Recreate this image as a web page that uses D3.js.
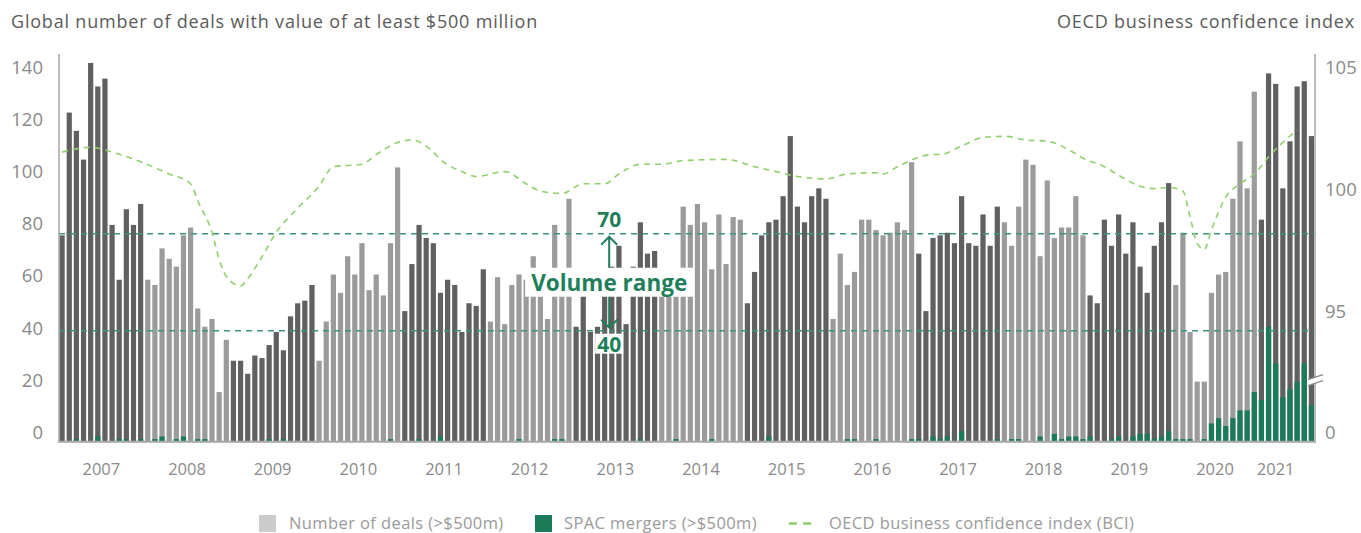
<html>
<head>
<script src="https://d3js.org/d3.v7.min.js"></script>
<style>
body{margin:0;background:#fff;}
text{font-family:"Open Sans",sans-serif;}
.tick{fill:#8a8a8a;font-size:18.5px;}
</style>
</head>
<body>
<div id="graph"></div>
<script>
// monthly number of deals (>$500m), Jan..Dec per year
var deals = {
  2007:[79,126,119,108,145,136,139,83,62,89,83,91],
  2008:[62,60,74,70,67,79,82,51,44,47,19,39],
  2009:[31,31,26,33,32,37,42,35,48,53,54,60],
  2010:[31,46,64,57,71,64,76,58,64,56,76,105],
  2011:[50,68,83,78,76,57,62,60,42,53,52,66],
  2012:[46,63,45,60,64,62,71,60,47,83,58,93],
  2013:[44,61,42,44,63,67,75,45,67,84,72,73],
  2014:[58,62,60,90,83,91,84,66,87,68,86,85],
  2015:[53,65,79,84,85,94,117,90,84,94,97,93],
  2016:[47,72,60,65,85,85,81,79,80,84,81,107],
  2017:[72,50,78,79,80,76,94,76,75,87,75,90],
  2018:[84,75,90,108,106,71,100,78,82,82,94,79],
  2019:[56,53,85,75,87,72,84,67,57,75,84,99],
  2020:[60,80,42,23,23,57,64,65,93,115,97,134],
  2021:[85,141,137,97,115,136,138,117]
};
// SPAC mergers (>$500m)
var spac = {
  2007:[0,0,1,0,0,2,0,0,1,1,0,1],
  2008:[0,1,2,0,1,2,0,1,1,0,0,0],
  2009:[0,0,0,0,0,1,0,1,0,0,0,0],
  2010:[0,0,0,0,0,0,0,0,0,0,1,0],
  2011:[0,0,1,0,0,2,0,0,0,0,0,0],
  2012:[0,0,0,0,1,0,0,0,0,1,1,0],
  2013:[0,0,0,0,0,0,0,0,0,1,0,0],
  2014:[0,0,1,0,0,0,0,1,0,0,0,0],
  2015:[0,0,0,2,0,0,0,0,0,0,0,0],
  2016:[0,0,1,1,0,0,1,0,0,0,0,1],
  2017:[1,0,2,1,2,0,4,0,0,0,0,1],
  2018:[0,1,1,0,0,2,0,3,1,2,2,1],
  2019:[2,0,0,1,2,0,2,3,3,1,2,4],
  2020:[1,1,1,0,1,7,9,6,9,12,12,19],
  2021:[16,44,30,17,20,23,30,14]
};
// OECD BCI
var bci = [
  ["2007-01",101.9],["2007-05",102.1],["2007-08",101.9],["2007-12",101.5],
  ["2008-04",101.0],["2008-07",100.6],["2008-08",99.9],["2008-10",98.6],
  ["2008-11",97.5],["2008-12",96.8],["2009-02",96.4],["2009-03",96.7],
  ["2009-05",97.6],["2009-07",98.6],["2009-10",99.6],["2010-01",100.5],
  ["2010-03",101.3],["2010-07",101.4],["2010-09",101.8],["2010-12",102.3],
  ["2011-02",102.4],["2011-05",101.9],["2011-06",101.6],["2011-09",101.1],
  ["2011-11",100.9],["2012-03",101.1],["2012-06",100.6],["2012-08",100.3],
  ["2012-11",100.2],["2013-02",100.6],["2013-05",100.6],["2013-07",101.0],
  ["2013-10",101.4],["2014-01",101.4],["2014-04",101.55],["2014-10",101.6],
  ["2015-02",101.3],["2015-05",101.1],["2015-08",100.9],["2015-12",100.8],
  ["2016-03",101.0],["2016-07",101.05],["2016-08",101.0],["2016-10",101.3],
  ["2017-03",101.8],["2017-04",101.8],["2017-07",102.15],["2017-10",102.5],
  ["2018-01",102.55],["2018-04",102.4],["2018-07",102.35],["2018-10",102.0],
  ["2018-12",101.65],["2019-03",101.3],["2019-05",100.95],["2019-08",100.5],
  ["2019-10",100.4],["2019-12",100.45],["2020-02",100.3],["2020-03",99.25],
  ["2020-04",98.15],["2020-05",97.9],["2020-06",98.7],["2020-08",100.05],
  ["2020-10",100.6],["2020-12",101.0],["2021-02",101.7],["2021-04",102.3],
  ["2021-06",102.8]
];
var rangeHi = 79.6, rangeLo = 42.5;

var width = 1361, height = 533;
var dark = "#606060", light = "#9b9b9b", green = "#1b7a57", axisCol = "#a6a6a6";

var rows = [];
Object.keys(deals).forEach(function(yr){
  deals[yr].forEach(function(v, m){
    rows.push({key: yr + "-" + (m < 9 ? "0" : "") + (m + 1), year: +yr, deals: v, spac: spac[yr][m]});
  });
});

var svg = d3.select("#graph").append("svg")
  .attr("width", width).attr("height", height);

var x = d3.scaleBand()
  .domain(rows.map(function(d){ return d.key; }))
  .range([59.5, 1314])
  .paddingInner(0.27)
  .paddingOuter(0);
var y = d3.scaleLinear().domain([0, 140]).range([441.7, 76]);
var yR = d3.scaleLinear().domain([95, 105]).range([320, 76.7]);

// deal bars
svg.append("g").selectAll("rect")
  .data(rows).enter().append("rect")
  .attr("x", function(d){ return x(d.key); })
  .attr("width", x.bandwidth())
  .attr("y", function(d){ return y(d.deals); })
  .attr("height", function(d){ return y(0) - y(d.deals); })
  .attr("fill", function(d){ return (d.year - 2007) % 2 === 0 ? dark : light; });

// SPAC bars
svg.append("g").selectAll("rect")
  .data(rows.filter(function(d){ return d.spac > 0; })).enter().append("rect")
  .attr("x", function(d){ return x(d.key); })
  .attr("width", x.bandwidth())
  .attr("y", function(d){ return y(d.spac); })
  .attr("height", function(d){ return y(0) - y(d.spac); })
  .attr("fill", green);

// volume range lines
svg.append("g").selectAll("line")
  .data([rangeHi, rangeLo]).enter().append("line")
  .attr("x1", 59).attr("x2", 1315)
  .attr("y1", function(d){ return y(d); }).attr("y2", function(d){ return y(d); })
  .attr("stroke", "#3e9478").attr("stroke-width", 1.6)
  .attr("stroke-dasharray", "6,5");

// BCI line
var line = d3.line()
  .x(function(d){ return x(d[0]) + x.bandwidth() / 2; })
  .y(function(d){ return yR(d[1]); })
  .curve(d3.curveMonotoneX);
svg.append("path")
  .datum(bci)
  .attr("d", line)
  .attr("fill", "none")
  .attr("stroke", "#8fd06b")
  .attr("stroke-width", 1.6)
  .attr("stroke-dasharray", "6,5");

// annotation
var ax = x("2013-06");
var yHi = y(rangeHi), yLo = y(rangeLo), yMid = (yHi + yLo) / 2;
var ann = svg.append("g").attr("fill", "#1e7f5a").style("font-weight", "bold");
var vt = ann.append("text").attr("x", ax).attr("y", yMid)
  .attr("text-anchor", "middle").attr("dominant-baseline", "central")
  .style("font-size", "22.5px").text("Volume range");
var bb = vt.node().getBBox();
ann.insert("rect", "text")
  .attr("x", bb.x - 6).attr("width", bb.width + 12)
  .attr("y", yMid - 14.5).attr("height", 29)
  .attr("fill", "#fff");
ann.append("text").attr("x", ax).attr("y", yHi - 15)
  .attr("text-anchor", "middle").attr("dominant-baseline", "central")
  .style("font-size", "21px").text("70");
var lt = ann.append("text").attr("x", ax).attr("y", yLo + 13)
  .attr("text-anchor", "middle").attr("dominant-baseline", "central")
  .style("font-size", "21px").text("40");
var lb = lt.node().getBBox();
ann.insert("rect", "text")
  .attr("x", lb.x - 2).attr("width", lb.width + 4)
  .attr("y", yLo + 3).attr("height", 20)
  .attr("fill", "#fff");
var arrows = ann.append("g").attr("fill", "none").attr("stroke", "#1e7f5a").attr("stroke-width", 2);
arrows.append("path").attr("d",
  "M" + ax + "," + (yMid - 14.5) + "V" + (yHi + 3) +
  "M" + (ax - 8) + "," + (yHi + 11) + "L" + ax + "," + (yHi + 3) + "L" + (ax + 8) + "," + (yHi + 11));
arrows.append("path").attr("d",
  "M" + ax + "," + (yMid + 14.5) + "V" + (yLo - 3) +
  "M" + (ax - 8) + "," + (yLo - 11) + "L" + ax + "," + (yLo - 3) + "L" + (ax + 8) + "," + (yLo - 11));

// axes
svg.append("line").attr("x1", 58).attr("x2", 1316).attr("y1", y(0)).attr("y2", y(0))
  .attr("stroke", axisCol).attr("stroke-width", 2);
svg.append("line").attr("x1", 59).attr("x2", 59).attr("y1", 54).attr("y2", y(0))
  .attr("stroke", axisCol).attr("stroke-width", 1.5);
svg.append("line").attr("x1", 1315).attr("x2", 1315).attr("y1", 54).attr("y2", y(0))
  .attr("stroke", axisCol).attr("stroke-width", 1.5);

// axis break
var brk = svg.append("g").attr("transform", "translate(1315," + (y(0) - 65) + ")");
brk.append("path").attr("d", "M-7,3L8,-2L8,4L-7,9Z").attr("fill", "#fff");
brk.append("path").attr("d", "M-7,3L8,-2M-7,9L8,4").attr("stroke", "#8a8a8a").attr("stroke-width", 1.3);

svg.append("g").selectAll("text")
  .data(d3.range(0, 141, 20)).enter().append("text")
  .attr("class", "tick")
  .attr("x", 43).attr("y", function(d){ return y(d) - 10; })
  .attr("text-anchor", "end").attr("dominant-baseline", "central")
  .text(function(d){ return d; });
svg.append("g").selectAll("text")
  .data([95, 100, 105]).enter().append("text")
  .attr("class", "tick")
  .attr("x", 1325).attr("y", function(d){ return yR(d) - 10; })
  .attr("dominant-baseline", "central")
  .text(function(d){ return d; });
svg.append("text").attr("class", "tick")
  .attr("x", 1325).attr("y", y(0) - 10)
  .attr("dominant-baseline", "central").text("0");

// year labels
var years = d3.range(2007, 2022);
svg.append("g").selectAll("text")
  .data(years).enter().append("text")
  .attr("x", function(d){ return d < 2021 ? x(d + "-07") - (x.step() - x.bandwidth()) / 2 : x(d + "-03") + x.bandwidth() / 2; })
  .attr("y", 475)
  .attr("text-anchor", "middle")
  .attr("fill", "#8a8a8a").style("font-size", "16.5px")
  .text(function(d){ return d; });

// titles
svg.append("text").attr("x", 11).attr("y", 28)
  .attr("fill", "#5a5a5a").style("font-size", "18px").style("letter-spacing", "0.8px")
  .text("Global number of deals with value of at least $500 million");
svg.append("text").attr("x", 1355).attr("y", 28).attr("text-anchor", "end")
  .attr("fill", "#5a5a5a").style("font-size", "18px").style("letter-spacing", "0.8px")
  .text("OECD business confidence index");

// legend
var lg = svg.append("g").style("font-size", "16.5px").style("letter-spacing", "0.4px").attr("fill", "#9a9a9a");
lg.append("rect").attr("x", 259).attr("y", 515).attr("width", 17).attr("height", 17).attr("fill", "#cccccc");
lg.append("text").attr("x", 289).attr("y", 529).text("Number of deals (>$500m)");
lg.append("rect").attr("x", 535).attr("y", 515).attr("width", 17).attr("height", 17).attr("fill", green);
lg.append("text").attr("x", 564).attr("y", 529).text("SPAC mergers (>$500m)");
lg.append("line").attr("x1", 789).attr("x2", 816).attr("y1", 523.5).attr("y2", 523.5)
  .attr("stroke", "#8fd06b").attr("stroke-width", 2.5).attr("stroke-dasharray", "8,6");
lg.append("text").attr("x", 829).attr("y", 529).text("OECD business confidence index (BCI)");
</script>
</body>
</html>
